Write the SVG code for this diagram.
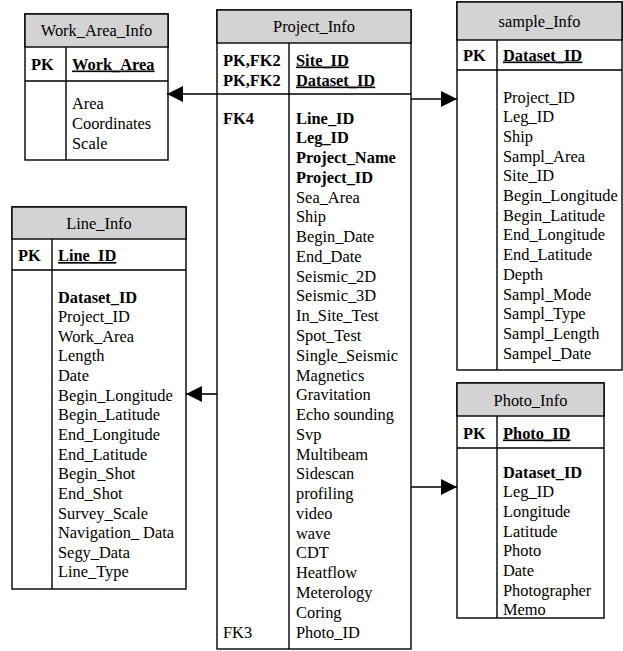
<svg xmlns="http://www.w3.org/2000/svg" width="623" height="651" viewBox="0 0 623 651" font-family="'Liberation Serif', 'Times New Roman', Times, 'DejaVu Serif', serif" font-size="16.4">
<style>
.box{fill:#fff;stroke:#000;stroke-width:1.4}
.hdr{fill:#d3d3d3;stroke:#000;stroke-width:1.4}
.ln{stroke:#000;stroke-width:1.4;fill:none}
text{font-family:'Liberation Serif','Times New Roman',Times,'DejaVu Serif',serif;font-size:16.4px;fill:#000}
.t{text-anchor:middle}
.b{font-weight:bold}
.u{text-decoration:underline}
.con{stroke:#000;stroke-width:1.6;fill:none}
</style>
<defs>
<marker id="ah" markerUnits="userSpaceOnUse" markerWidth="17" markerHeight="17" refX="16" refY="8" orient="auto">
<path d="M0,0 L16,8 L0,16 z" fill="#000"/>
</marker>
</defs>
<rect width="623" height="651" fill="#fff"/>

<g id="Work_Area_Info">
<rect class="box" x="25" y="14" width="143" height="146"/>
<rect class="hdr" x="25" y="14" width="143" height="33"/>
<line class="ln" x1="25" y1="81" x2="168" y2="81"/>
<line class="ln" x1="66" y1="47" x2="66" y2="160"/>
<text class="t" x="96.5" y="36">Work_Area_Info</text>
<text class="b" x="31" y="69.5">PK</text>
<text class="b u" x="72" y="69.5">Work_Area</text>
<text x="72" y="108.5">Area</text>
<text x="72" y="128.5">Coordinates</text>
<text x="72" y="148.5">Scale</text>
</g>

<g id="Project_Info">
<rect class="box" x="217" y="10" width="194" height="639"/>
<rect class="hdr" x="217" y="10" width="194" height="33"/>
<line class="ln" x1="217" y1="94" x2="411" y2="94"/>
<line class="ln" x1="289" y1="43" x2="289" y2="649"/>
<text class="t" x="314" y="32">Project_Info</text>
<text class="b" x="223" y="65.5">PK,FK2</text>
<text class="b" x="223" y="85.5">PK,FK2</text>
<text class="b u" x="296" y="65.5">Site_ID</text>
<text class="b u" x="296" y="85.5">Dataset_ID</text>
<text class="b" x="223" y="123.5">FK4</text>
<text x="223" y="637.5">FK3</text>
<g transform="translate(296,123.5)">
<text class="b" y="0">Line_ID</text>
<text class="b" y="19.77">Leg_ID</text>
<text class="b" y="39.54">Project_Name</text>
<text class="b" y="59.31">Project_ID</text>
<text y="79.08">Sea_Area</text>
<text y="98.85">Ship</text>
<text y="118.62">Begin_Date</text>
<text y="138.39">End_Date</text>
<text y="158.16">Seismic_2D</text>
<text y="177.93">Seismic_3D</text>
<text y="197.7">In_Site_Test</text>
<text y="217.47">Spot_Test</text>
<text y="237.24">Single_Seismic</text>
<text y="257.01">Magnetics</text>
<text y="276.78">Gravitation</text>
<text y="296.55">Echo sounding</text>
<text y="316.32">Svp</text>
<text y="336.09">Multibeam</text>
<text y="355.86">Sidescan</text>
<text y="375.63">profiling</text>
<text y="395.4">video</text>
<text y="415.17">wave</text>
<text y="434.94">CDT</text>
<text y="454.71">Heatflow</text>
<text y="474.48">Meterology</text>
<text y="494.25">Coring</text>
<text y="514.02">Photo_ID</text>
</g>
</g>

<g id="sample_Info">
<rect class="box" x="457" y="2" width="165" height="368"/>
<rect class="hdr" x="457" y="2" width="165" height="38"/>
<line class="ln" x1="457" y1="70" x2="622" y2="70"/>
<line class="ln" x1="497" y1="40" x2="497" y2="370"/>
<text class="t" x="539.5" y="26.5">sample_Info</text>
<text class="b" x="463" y="60.5">PK</text>
<text class="b u" x="503" y="60.5">Dataset_ID</text>
<g transform="translate(503,102.5)">
<text y="0">Project_ID</text>
<text y="19.7">Leg_ID</text>
<text y="39.4">Ship</text>
<text y="59.1">Sampl_Area</text>
<text y="78.8">Site_ID</text>
<text y="98.5">Begin_Longitude</text>
<text y="118.2">Begin_Latitude</text>
<text y="137.9">End_Longitude</text>
<text y="157.6">End_Latitude</text>
<text y="177.3">Depth</text>
<text y="197">Sampl_Mode</text>
<text y="216.7">Sampl_Type</text>
<text y="236.4">Sampl_Length</text>
<text y="256.1">Sampel_Date</text>
</g>
</g>

<g id="Line_Info">
<rect class="box" x="12" y="207" width="174" height="382"/>
<rect class="hdr" x="12" y="207" width="174" height="32"/>
<line class="ln" x1="12" y1="270" x2="186" y2="270"/>
<line class="ln" x1="52" y1="239" x2="52" y2="589"/>
<text class="t" x="99" y="228.5">Line_Info</text>
<text class="b" x="18" y="261">PK</text>
<text class="b u" x="58" y="261">Line_ID</text>
<g transform="translate(58,302.5)">
<text class="b" y="0">Dataset_ID</text>
<text y="19.64">Project_ID</text>
<text y="39.28">Work_Area</text>
<text y="58.92">Length</text>
<text y="78.56">Date</text>
<text y="98.2">Begin_Longitude</text>
<text y="117.84">Begin_Latitude</text>
<text y="137.48">End_Longitude</text>
<text y="157.12">End_Latitude</text>
<text y="176.76">Begin_Shot</text>
<text y="196.4">End_Shot</text>
<text y="216.04">Survey_Scale</text>
<text y="235.68">Navigation_ Data</text>
<text y="255.32">Segy_Data</text>
<text y="274.96">Line_Type</text>
</g>
</g>

<g id="Photo_Info">
<rect class="box" x="457" y="383" width="147" height="235"/>
<rect class="hdr" x="457" y="383" width="147" height="33"/>
<line class="ln" x1="457" y1="448" x2="604" y2="448"/>
<line class="ln" x1="497" y1="416" x2="497" y2="618"/>
<text class="t" x="530.5" y="405.5">Photo_Info</text>
<text class="b" x="463" y="438.5">PK</text>
<text class="b u" x="503" y="438.5">Photo_ID</text>
<g transform="translate(503,477.5)">
<text class="b" y="0">Dataset_ID</text>
<text y="19.7">Leg_ID</text>
<text y="39.4">Longitude</text>
<text y="59.1">Latitude</text>
<text y="78.8">Photo</text>
<text y="98.5">Date</text>
<text y="118.2">Photographer</text>
<text y="137.9">Memo</text>
</g>
</g>

<g id="connectors">
<line class="con" x1="217" y1="94" x2="167" y2="94" marker-end="url(#ah)"/>
<line class="con" x1="411" y1="99" x2="457" y2="99" marker-end="url(#ah)"/>
<line class="con" x1="217" y1="394" x2="186" y2="394" marker-end="url(#ah)"/>
<line class="con" x1="411" y1="487" x2="457" y2="487" marker-end="url(#ah)"/>
</g>
</svg>
